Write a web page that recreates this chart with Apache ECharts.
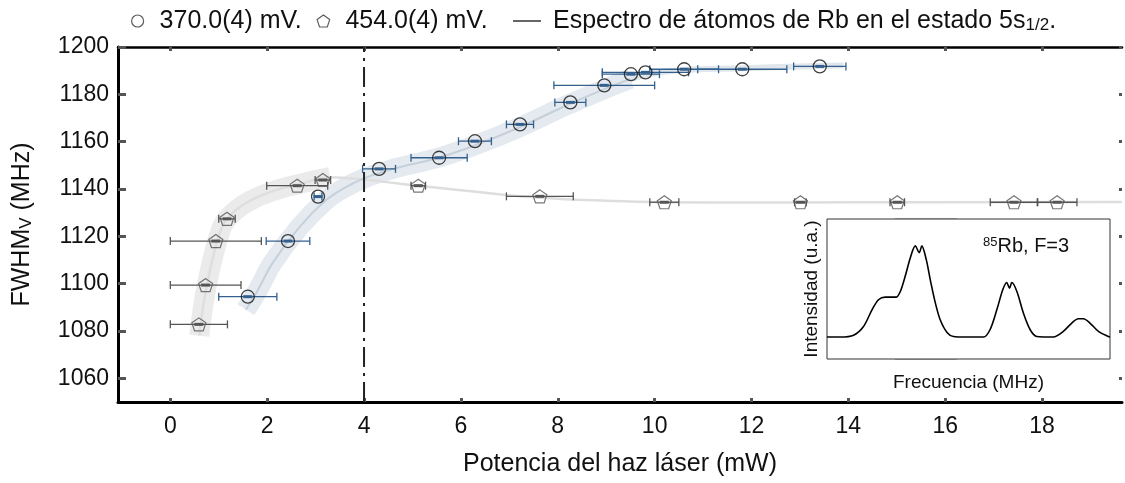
<!DOCTYPE html>
<html><head><meta charset="utf-8">
<script src="https://cdn.jsdelivr.net/npm/echarts@6/dist/echarts.min.js"></script>
<style>html,body{margin:0;padding:0;background:#fff}#c{width:1125px;height:483px}</style>
</head><body><div id="c"></div>
<script>
// ---- data ----
const xTicks = [0, 2, 4, 6, 8, 10, 12, 14, 16, 18];
const yTicks = [1060, 1080, 1100, 1120, 1140, 1160, 1180, 1200];

// 370.0(4) mV (circles)
const circX   = [1.60, 2.43, 3.05, 4.31, 5.55, 6.29, 7.22, 8.26, 8.96, 9.51, 9.81, 10.61, 11.81, 13.41];
const circY   = [1094.5, 1118.0, 1136.8, 1148.5, 1153.2, 1160.2, 1167.3, 1176.6, 1183.8, 1188.5, 1189.3, 1190.6, 1190.6, 1191.8];
const circErr = [0.60, 0.45, 0.08, 0.34, 0.58, 0.34, 0.28, 0.32, 1.04, 0.59, 0.89, 0.71, 0.92, 0.54];

// 454.0(4) mV (pentagons)
const pentX   = [0.59, 0.73, 0.94, 1.17, 2.62, 3.15, 5.12, 7.63, 10.20, 13.01, 15.01, 17.42, 18.31];
const pentY   = [1082.8, 1099.4, 1118.0, 1127.4, 1141.4, 1143.8, 1141.4, 1136.9, 1134.4, 1134.4, 1134.4, 1134.4, 1134.4];
const pentErr = [0.59, 0.73, 0.94, 0.17, 0.63, 0.16, 0.15, 0.69, 0.30, 0.12, 0.15, 0.49, 0.41];

// fitted trends
const fitCircBandX = [1.56, 1.8, 2.12, 2.67, 3.2, 3.6, 4.0, 4.6, 5.5, 6.3, 7.2, 8.2, 9.0, 9.5];
const fitCircBandY = [1089, 1097, 1109, 1124, 1135, 1140.5, 1144.5, 1148.5, 1153, 1158.5, 1166, 1175.5, 1182.5, 1186.5];
const fitCircTailX = [9.5, 10.0, 10.6, 11.8, 13.4, 13.9];
const fitCircTailY = [1186.5, 1189, 1190.3, 1191, 1192, 1192.2];
const fitPentBandX = [0.6, 0.66, 0.76, 0.88, 1.0, 1.12, 1.35, 1.64, 2.1, 2.68, 3.3];
const fitPentBandY = [1078, 1088, 1100, 1111, 1120, 1126, 1131, 1135, 1139, 1142.2, 1145];
const fitPentLineX = [3.3, 4.0, 4.74, 6.0, 7.49, 9.0, 10.25, 12.0, 14.0, 19.65];
const fitPentLineY = [1145, 1144, 1142.2, 1139.5, 1136.5, 1135, 1134.4, 1134.3, 1134.4, 1134.5];
const refPower = 4;

// inset spectrum (arbitrary units)
const specF = [0, 4.7, 9.4, 12.9, 15.9, 18.2, 20.6, 22.9, 24.5, 25.9, 27.6, 29.4, 31.2, 32.6, 33.5, 35.1, 36.5, 38.3, 40.0, 42.4, 44.7, 48.8, 55.3, 57.6, 60.0, 62.1, 63.5, 64.5, 65.3, 67.1, 69.4, 71.8, 74.1, 80.0, 83.5, 86.5, 88.8, 90.6, 92.9, 95.9, 99.4, 100];
const specI = [0.157, 0.157, 0.17, 0.232, 0.351, 0.423, 0.442, 0.442, 0.442, 0.482, 0.589, 0.72, 0.808, 0.76, 0.808, 0.708, 0.565, 0.399, 0.28, 0.19, 0.161, 0.157, 0.157, 0.209, 0.351, 0.494, 0.546, 0.506, 0.546, 0.482, 0.328, 0.209, 0.161, 0.157, 0.197, 0.257, 0.287, 0.287, 0.257, 0.197, 0.161, 0.157];
const shadeRange = [24.2, 45.6];

// ---- helpers ----
const zip = (a, b) => a.map((v, i) => [v, b[i]]);
const zip3 = (a, b, c) => a.map((v, i) => [v, b[i], c[i]]);
const FONT = 'Liberation Sans, Arial, sans-serif';
const PENT = 'path://M0,-10 L9.51,-3.09 L5.88,8.09 L-5.88,8.09 L-9.51,-3.09 Z';
const NAME_C = '370.0(4) mV.';
const NAME_P = '454.0(4) mV.';
const NAME_S = 'Espectro de átomos de Rb en el estado 5s1/2.';
const LFS = 25;

function errRender(color) {
  return function (params, api) {
    const x = api.value(0), y = api.value(1), e = api.value(2);
    const p1 = api.coord([x - e, y]), p2 = api.coord([x + e, y]), c = api.coord([x, y]);
    const st = { stroke: color, lineWidth: 1.3 };
    return {
      type: 'group',
      children: [
        { type: 'line', shape: { x1: p1[0], y1: p1[1], x2: p2[0], y2: p2[1] }, style: st },
        { type: 'line', shape: { x1: p1[0], y1: p1[1] - 4, x2: p1[0], y2: p1[1] + 4 }, style: st },
        { type: 'line', shape: { x1: p2[0], y1: p2[1] - 4, x2: p2[0], y2: p2[1] + 4 }, style: st },
        { type: 'rect', shape: { x: c[0] - 4.5, y: c[1] - 1.5, width: 9, height: 3 }, style: { fill: color } }
      ]
    };
  };
}

const chart = echarts.init(document.getElementById('c'));
const tickStyle = { color: '#555', width: 3 };
const legendText = { fontSize: LFS, color: '#111', fontFamily: FONT };
const option = {
  animation: false,
  textStyle: { fontFamily: FONT },
  legend: [
    { data: [{ name: NAME_C, icon: 'circle', itemStyle: { color: 'transparent', borderColor: '#333', borderWidth: 1.2 } }],
      left: 131, top: 8.5, padding: 0, itemWidth: 34, itemHeight: 12, selectedMode: false, textStyle: legendText },
    { data: [{ name: NAME_P, icon: PENT, itemStyle: { color: 'transparent', borderColor: '#333', borderWidth: 1.2 } }],
      left: 316.5, top: 8.5, padding: 0, itemWidth: 34, itemHeight: 12, selectedMode: false, textStyle: legendText },
    { data: [{ name: NAME_S, icon: 'rect', itemStyle: { color: '#000' } }],
      left: 513, top: 8.5, padding: 0, itemWidth: 28, itemHeight: 1.2, selectedMode: false,
      formatter: () => '{b|Espectro de átomos de Rb en el estado 5s}{s|1/2}{a|.}',
      textStyle: { fontSize: LFS, color: '#111', fontFamily: FONT,
        rich: { b: { fontSize: LFS, color: '#111', fontFamily: FONT, padding: [0, 0, 0, 7] },
                a: { fontSize: LFS, color: '#111', fontFamily: FONT },
                s: { fontSize: 17, color: '#111', fontFamily: FONT, verticalAlign: 'bottom' } } } }
  ],
  grid: [
    { left: 118, top: 47, width: 1004, height: 355 },
    { left: 827, top: 219, width: 283, height: 140, show: true, backgroundColor: '#fff', borderColor: '#333', borderWidth: 1, z: 10 }
  ],
  xAxis: [
    { gridIndex: 0, type: 'value', min: -1.08, max: 19.65, position: 'bottom',
      axisLine: { onZero: false, lineStyle: { color: '#000', width: 3 } },
      axisTick: { inside: true, length: 4, lineStyle: tickStyle, customValues: xTicks },
      axisLabel: { customValues: xTicks, fontSize: 23, color: '#111', margin: 13, fontFamily: FONT },
      splitLine: { show: false },
      name: 'Potencia del haz láser (mW)', nameLocation: 'middle', nameGap: 50,
      nameTextStyle: { fontSize: 25, color: '#111', fontFamily: FONT } },
    { gridIndex: 0, type: 'value', min: -1.08, max: 19.65, position: 'top',
      axisLine: { onZero: false, lineStyle: { color: '#000', width: 2.5 } },
      axisTick: { inside: true, length: 4, lineStyle: tickStyle, customValues: xTicks },
      axisLabel: { show: false }, splitLine: { show: false } },
    { gridIndex: 1, type: 'value', min: 0, max: 100,
      axisLine: { show: false }, axisTick: { show: false }, axisLabel: { show: false }, splitLine: { show: false },
      name: 'Frecuencia (MHz)', nameLocation: 'middle', nameGap: 14,
      nameTextStyle: { fontSize: 19, color: '#111', fontFamily: FONT } }
  ],
  yAxis: [
    { gridIndex: 0, type: 'value', min: 1050, max: 1200, position: 'left',
      axisLine: { onZero: false, lineStyle: { color: '#000', width: 3 } },
      axisTick: { inside: true, length: 8, lineStyle: tickStyle, customValues: yTicks },
      axisLabel: { customValues: yTicks, fontSize: 23, color: '#111', margin: 9, fontFamily: FONT, formatter: v => String(v) },
      splitLine: { show: false },
      name: '{a|FWHM}{s|V}{a| (MHz)}', nameLocation: 'middle', nameGap: 83, nameRotate: 90,
      nameTextStyle: { fontSize: 25, color: '#111', fontFamily: FONT,
        rich: { a: { fontSize: 25, color: '#111', fontFamily: FONT },
                s: { fontSize: 17, color: '#111', fontFamily: FONT, verticalAlign: 'bottom' } } } },
    { gridIndex: 0, type: 'value', min: 1050, max: 1200, position: 'right',
      axisLine: { show: false, onZero: false },
      axisTick: { show: true, inside: true, length: 3, lineStyle: tickStyle, customValues: yTicks },
      axisLabel: { show: false }, splitLine: { show: false } },
    { gridIndex: 1, type: 'value', min: 0, max: 1,
      axisLine: { show: false }, axisTick: { show: false }, axisLabel: { show: false }, splitLine: { show: false },
      name: 'Intensidad (u.a.)', nameLocation: 'middle', nameGap: 6, nameRotate: 90,
      nameTextStyle: { fontSize: 19, color: '#111', fontFamily: FONT } }
  ],
  graphic: [
    { type: 'text', left: 983, top: 236, z: 100,
      style: { text: '{sup|85}{n|Rb, F=3}', fill: '#111',
        rich: { sup: { fontSize: 13, fontFamily: FONT, fill: '#111', verticalAlign: 'top' },
                n: { fontSize: 20, fontFamily: FONT, fill: '#111' } } } }
  ],
  series: [
    { type: 'line', silent: true, xAxisIndex: 0, yAxisIndex: 0, data: zip(fitPentBandX, fitPentBandY),
      smooth: 0.4, showSymbol: false, z: 1, lineStyle: { width: 20, color: '#ebebeb', cap: 'butt' } },
    { type: 'line', silent: true, xAxisIndex: 0, yAxisIndex: 0, data: zip(fitCircBandX, fitCircBandY),
      smooth: 0.4, showSymbol: false, z: 1, lineStyle: { width: 20, color: '#e4eaf0', cap: 'butt' } },
    { type: 'line', silent: true, xAxisIndex: 0, yAxisIndex: 0, data: zip(fitCircTailX, fitCircTailY),
      smooth: 0.4, showSymbol: false, z: 1, lineStyle: { width: 6, color: '#dfe6ec', cap: 'butt' } },
    { type: 'line', silent: true, xAxisIndex: 0, yAxisIndex: 0, data: zip(fitPentBandX, fitPentBandY).concat(zip(fitPentLineX, fitPentLineY).slice(1)),
      smooth: 0.4, showSymbol: false, z: 2, lineStyle: { width: 2.5, color: '#dedede' } },
    { type: 'line', silent: true, xAxisIndex: 0, yAxisIndex: 0, data: zip(fitCircBandX, fitCircBandY),
      smooth: 0.4, showSymbol: false, z: 2, lineStyle: { width: 2, color: '#c5d0da' } },
    { type: 'line', silent: true, xAxisIndex: 0, yAxisIndex: 0, data: [[refPower, 1050], [refPower, 1200]],
      showSymbol: false, z: 3, lineStyle: { width: 2, color: '#222', type: [20, 6, 3, 6] } },
    { type: 'custom', silent: true, xAxisIndex: 0, yAxisIndex: 0, data: zip3(circX, circY, circErr),
      renderItem: errRender('#33608e'), z: 4 },
    { type: 'custom', silent: true, xAxisIndex: 0, yAxisIndex: 0, data: zip3(pentX, pentY, pentErr),
      renderItem: errRender('#555'), z: 4 },
    { type: 'scatter', name: NAME_C, xAxisIndex: 0, yAxisIndex: 0, data: zip(circX, circY),
      symbol: 'circle', symbolSize: 13, z: 5,
      itemStyle: { color: 'transparent', borderColor: '#111', borderWidth: 1.3 } },
    { type: 'scatter', name: NAME_P, xAxisIndex: 0, yAxisIndex: 0, data: zip(pentX, pentY),
      symbol: PENT, symbolSize: [14, 13], z: 5,
      itemStyle: { color: 'transparent', borderColor: '#555', borderWidth: 1.2 } },
    { type: 'line', name: NAME_S, xAxisIndex: 2, yAxisIndex: 2, data: zip(specF, specI),
      smooth: 0.3, showSymbol: false, z: 20, color: '#000', lineStyle: { width: 1.6, color: '#000' },
      markArea: { silent: true, itemStyle: { color: '#e6f2f4', borderColor: '#aaa', borderWidth: 1.5 },
        data: [[{ xAxis: shadeRange[0] }, { xAxis: shadeRange[1] }]] } }
  ]
};
chart.setOption(option);
</script></body></html>
